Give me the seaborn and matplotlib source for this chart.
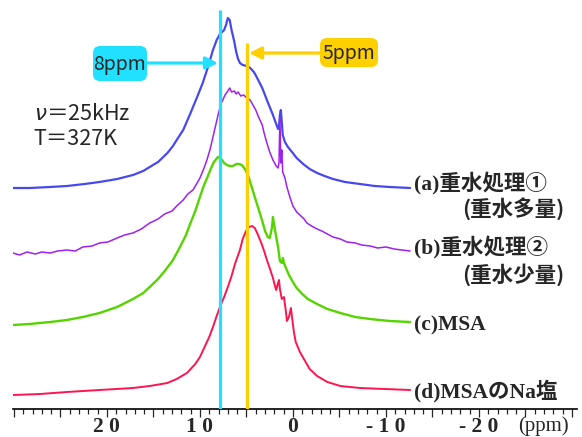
import numpy as np
import pandas as pd
import seaborn as sns
import matplotlib.pyplot as plt
from matplotlib import font_manager
from matplotlib.patches import FancyBboxPatch
from matplotlib.transforms import IdentityTransform

# =========================
# Data (height in arbitrary units above the axis)
# =========================
ppm_a = [30.1, 28.3, 26.1, 24.3, 22.4, 20.8, 18.9, 17.2, 16.1, 15.4,
         14.5, 13.5, 12.9, 12.5, 11.8, 11.1, 10.3, 9.7, 9.1, 8.6,
         8.2, 7.85, 7.4, 7.2, 7.0, 6.8, 6.6, 6.3, 6.1, 5.9,
         5.7, 5.4, 4.95, 4.6, 4.2, 3.9, 3.3, 2.8, 2.15, 1.8,
         1.6, 1.5, 1.4, 1.3, 1.2, 1.1, 0.86, 0.54, 0.1, -0.4,
         -1.1, -1.8, -2.6, -3.4, -4.3, -5.6, -7.2, -8.8, -10.4, -12.6]
int_a = [221, 221, 222, 223, 225, 227, 230, 234, 238, 242,
         247, 256, 263, 269, 279, 294, 312, 326, 343, 359,
         369, 375, 379, 384, 391, 389, 379, 367, 357, 350,
         346, 344, 343, 341, 337, 332, 321, 309, 294, 285,
         280, 283, 294, 299, 287, 274, 267, 262, 257, 251,
         245, 240, 236, 233, 230, 227, 225, 223, 222, 221]

ppm_b = [30.1, 29.4, 28.6, 27.7, 27.0, 26.1, 25.3, 24.3, 23.4, 22.6,
         21.6, 20.8, 19.9, 18.9, 18.1, 17.2, 16.3, 15.4, 14.5, 13.8,
         13.0, 12.5, 11.8, 11.3, 10.75, 10.3, 10.0, 9.6, 9.25, 8.9,
         8.6, 8.3, 8.0, 7.7, 7.3, 7.0, 6.8, 6.6, 6.3, 6.1,
         5.9, 5.6, 5.3, 4.95, 4.6, 4.3, 4.0, 3.7, 3.3, 3.1,
         2.8, 2.5, 2.15, 1.8, 1.6, 1.5, 1.4, 1.3, 1.2, 1.1,
         0.86, 0.65, 0.3, 0.0, -0.4, -0.75, -1.2, -1.5, -2.0, -2.6,
         -3.1, -3.7, -4.3, -5.1, -5.8, -6.7, -7.4, -8.3, -9.1, -10.0,
         -10.9, -11.7, -12.6]
int_b = [156, 154, 157, 155, 157, 156, 158, 159, 158, 162,
         163, 166, 167, 171, 174, 176, 180, 186, 190, 195,
         198, 203, 209, 215, 219, 226, 231, 240, 249, 260,
         272, 284, 296, 306, 314, 318, 321, 317, 318, 315,
         317, 313, 314, 311, 309, 304, 299, 292, 284, 276,
         266, 257, 249, 243, 241, 246, 291, 246, 259, 237,
         231, 222, 211, 203, 197, 194, 190, 186, 183, 180,
         178, 175, 172, 170, 167, 166, 164, 163, 161, 162,
         160, 159, 158]

ppm_c = [30.1, 28.3, 26.1, 24.3, 22.6, 20.8, 18.9, 17.2, 16.1, 15.4,
         14.5, 13.7, 12.9, 12.2, 11.5, 11.1, 10.5, 10.0, 9.6, 9.1,
         8.8, 8.5, 8.06, 7.7, 7.4, 7.1, 6.8, 6.45, 6.1, 5.8,
         5.5, 5.16, 4.8, 4.5, 4.2, 3.8, 3.3, 3.0, 2.7, 2.5,
         2.26, 2.15, 2.04, 1.8, 1.6, 1.4, 1.2, 1.08, 0.97, 0.75,
         0.43, 0.0, -0.4, -1.0, -1.6, -2.6, -3.7, -5.1, -6.7, -8.3,
         -10.4, -12.6]
int_c = [84, 85, 87, 89, 92, 96, 102, 110, 116, 122,
         130, 139, 149, 161, 174, 184, 198, 212, 223, 234,
         241, 247, 252, 250, 246, 244, 243, 243, 245, 245,
         244, 240, 233, 224, 215, 203, 188, 178, 172, 171,
         181, 192, 185, 172, 162, 148, 146, 151, 146, 141,
         134, 127, 121, 115, 110, 105, 100, 96, 92, 90,
         88, 87]

ppm_d = [30.1, 27.2, 24.3, 20.8, 17.2, 15.4, 13.5, 12.5, 11.4, 10.5,
         10.0, 9.5, 9.0, 8.6, 8.2, 7.85, 7.4, 7.0, 6.6, 6.2,
         5.7, 5.4, 5.05, 4.7, 4.4, 4.1, 3.8, 3.4, 3.1, 2.8,
         2.5, 2.15, 1.9, 1.8, 1.6, 1.5, 1.4, 1.2, 0.97, 0.75,
         0.65, 0.43, 0.22, 0.1, -0.1, -0.3, -0.75, -1.3, -1.8, -2.6,
         -3.7, -5.1, -7.2, -9.9, -12.6]
int_d = [14, 15, 17, 19, 21, 23, 26, 30, 36, 45,
         52, 62, 72, 82, 93, 102, 112, 122, 133, 146,
         159, 170, 178, 182, 183, 181, 175, 166, 158, 149,
         141, 131, 122, 119, 126, 129, 120, 110, 112, 97,
         88, 92, 101, 92, 77, 67, 57, 48, 40, 33,
         27, 23, 21, 20, 19]

labels = ["(a)重水処理①", "(b)重水処理②", "(c)MSA", "(d)MSAのNa塩"]
sublabels = ["(重水多量)", "(重水少量)"]
colors = ["#4848f0", "#a020f0", "#55d400", "#ff1450"]

tick_vals = [30, 25, 20, 15, 10, 5, 0, -5, -10, -15, -20, -25, -30]
tick_text = ["", "", "2 0", "", "1 0", "", "0", "", "- 1 0", "", "- 2 0", "", ""]

# =========================
# Plot
# =========================
sns.set_style("white")
plt.rcParams["font.family"] = ["Liberation Serif", "Noto Sans CJK JP", "DejaVu Sans"]

# narrow font for the ppm boxes if present
try:
    font_manager.findfont("Liberation Sans Narrow", fallback_to_default=False)
    box_font = ["Liberation Sans Narrow", "Noto Sans CJK JP"]
    box_size = 15.5
except Exception:
    box_font = ["Noto Sans CJK JP"]
    box_size = 14

W, H = 582, 437
fig = plt.figure(figsize=(W / 100, H / 100), dpi=100)
ax = fig.add_axes([13 / W, 28 / H, 563.6 / W, 409 / H])

spectra = [(ppm_a, int_a, 1.6), (ppm_b, int_b, 1.1), (ppm_c, int_c, 1.7), (ppm_d, int_d, 1.4)]
for (x, y, lw), c in zip(spectra, colors):
    df = pd.DataFrame({"ppm": x, "I": y})
    sns.lineplot(data=df, x="ppm", y="I", color=c, lw=lw, sort=False,
                 estimator=None, ax=ax)

ax.vlines(7.85, 0, 399, color="#22e0ff", lw=2.3, zorder=5)
ax.vlines(4.95, 0, 366, color="#ffd000", lw=2.3, zorder=5)

ax.set_xlim(30.1, -30.5)
ax.set_ylim(0, 409)
ax.set_xlabel("")
ax.set_ylabel("")
ax.set_yticks([])
for s in ["left", "top", "right"]:
    ax.spines[s].set_visible(False)
ax.spines["bottom"].set_linewidth(1.2)
ax.spines["bottom"].set_color("black")

ax.set_xticks(tick_vals)
ax.set_xticklabels(tick_text, fontsize=15.5, fontweight="bold",
                   family="Liberation Serif")
ax.set_xticks(np.arange(-30, 31, 1), minor=True)
ax.tick_params(axis="x", which="major", direction="out", length=5.5, width=0.9,
               pad=0, bottom=True)
ax.tick_params(axis="x", which="minor", direction="out", length=3.6, width=0.9,
               bottom=True)


def px(x, y):
    return x / W, 1 - y / H


fig.text(*px(543, 431), "(ppm)", fontsize=15, family="Liberation Serif",
         ha="center", va="baseline")

# conditions
fig.text(*px(34, 114), r"$\nu$＝25kHz", fontsize=15.5, family="Noto Sans CJK JP",
         ha="left", va="center")
fig.text(*px(33, 139), "T＝327K", fontsize=15.5, family="Noto Sans CJK JP",
         ha="left", va="center")

# spectrum labels
lab_y = [183, 247, 325, 391]
for t, yy in zip(labels, lab_y):
    fig.text(*px(414, yy), t, fontsize=15.5, fontweight="bold",
             family=["Liberation Serif", "Noto Sans CJK JP"],
             ha="left", va="center")
for t, yy in zip(sublabels, [209, 275]):
    fig.text(*px(462, yy), t, fontsize=15.5, fontweight="bold",
             family="Noto Sans CJK JP", ha="left", va="center")

# ppm markers
for (x0, y0, x1, y1), fc, t in [((93, 46, 147, 81), "#22e0ff", "8ppm"),
                                ((320, 38, 378, 67), "#ffd000", "5ppm")]:
    box = FancyBboxPatch((x0, H - y1), x1 - x0, y1 - y0,
                         boxstyle="round,pad=0,rounding_size=7",
                         fc=fc, ec="none", transform=IdentityTransform())
    fig.add_artist(box)
    fig.text(*px((x0 + x1) / 2, (y0 + y1) / 2 + 1), t, fontsize=box_size,
             family=box_font, ha="center", va="center")

ax.annotate("", xy=(218, H - 63), xytext=(147, H - 63),
            xycoords="figure pixels", textcoords="figure pixels",
            arrowprops=dict(arrowstyle="-|>", color="#22e0ff", lw=2.3,
                            mutation_scale=18, shrinkA=0, shrinkB=0))
ax.annotate("", xy=(249, H - 53), xytext=(320, H - 53),
            xycoords="figure pixels", textcoords="figure pixels",
            arrowprops=dict(arrowstyle="-|>", color="#ffd000", lw=2.3,
                            mutation_scale=18, shrinkA=0, shrinkB=0))

plt.savefig("out.png", dpi=100)
